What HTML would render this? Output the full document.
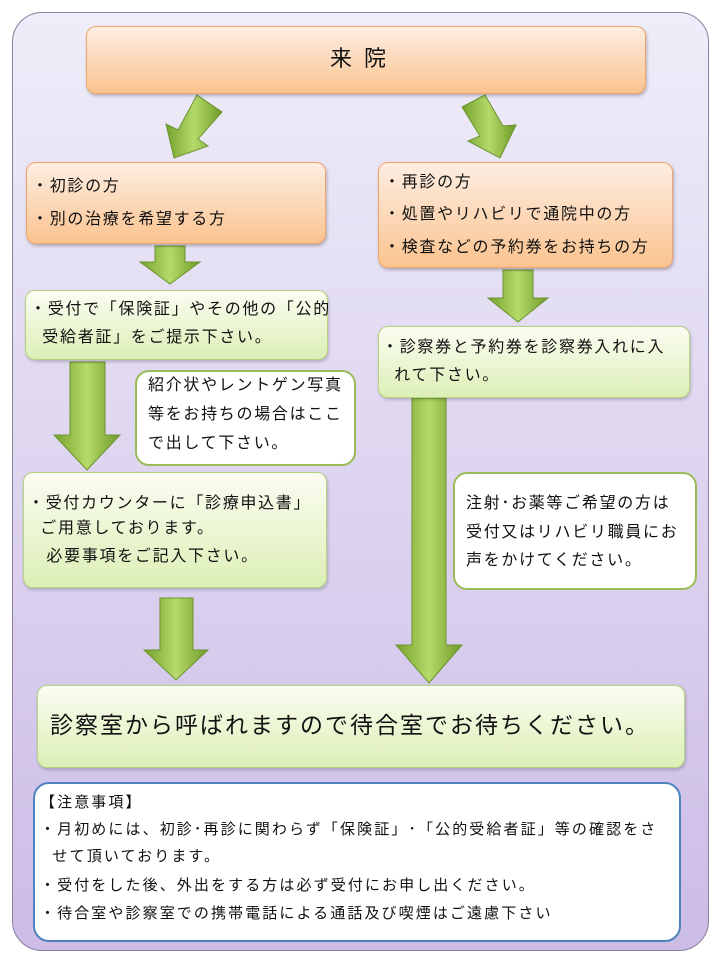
<!DOCTYPE html>
<html><head><meta charset="utf-8"><style>
body{margin:0;width:720px;height:960px;background:#fff;position:relative;overflow:hidden;font-family:"Liberation Sans","Noto Sans CJK JP",sans-serif;color:#111}
.a{position:absolute;box-sizing:border-box}
.org{background:linear-gradient(#fdeee2,#fbc38f);border:1px solid #f0a56a;border-radius:10px;box-shadow:1px 2px 3px rgba(0,0,0,.25)}
.grn{background:linear-gradient(#fbfdf2,#dcefb6);border:1px solid #b6d47e;border-radius:10px;box-shadow:1px 2px 3px rgba(0,0,0,.2)}
.wht{background:#fff;border:2px solid #9bbb59;border-radius:14px}
.t{position:absolute;font-size:16px;letter-spacing:1.7px;white-space:nowrap;line-height:1}
.n{font-size:15px;letter-spacing:2.1px}
</style></head><body>
<div class="a" style="left:12px;top:12px;width:697px;height:939px;border:1px solid #8a80a0;border-radius:30px;background:linear-gradient(#efedf9,#ccbce6)"></div>

<svg class="a" style="left:0;top:0" width="720" height="960">
<defs><linearGradient id="g" x1="0" x2="1"><stop offset="0" stop-color="#76a22c"/><stop offset=".5" stop-color="#b5da6a"/><stop offset="1" stop-color="#6f9a28"/></linearGradient></defs>
<g fill="url(#g)" stroke="#6b9330" stroke-width="1">
<polygon points="197,95 222,112 198,139 208,146 174,158 166,124 178,130"/>
<polygon points="485,95 462,107 480,136 468,141 500,158 516,125 503,126"/>
<polygon points="155,246 185,246 185,262 200,262 170,284 140,262 155,262"/>
<polygon points="503,270 533,270 533,298 548,298 518,322 488,298 503,298"/>
<polygon points="70,362 105,362 105,435 120,435 87,470 54,435 70,435"/>
<polygon points="160,598 193,598 193,650 208,650 176,680 144,650 160,650"/>
<polygon points="412,398 446,398 446,645 462,645 429,683 396,645 412,645"/>
</g></svg>

<div class="a org" style="left:86px;top:26px;width:560px;height:68px"></div>
<div class="t" style="left:330px;top:48px;font-size:22px;letter-spacing:12px">来院</div>

<div class="a org" style="left:26px;top:162px;width:300px;height:82px"></div>
<div class="t" style="left:32px;top:179px">・初診の方</div>
<div class="t" style="left:32px;top:212px">・別の治療を希望する方</div>

<div class="a org" style="left:378px;top:162px;width:295px;height:106px"></div>
<div class="t" style="left:384px;top:175px">・再診の方</div>
<div class="t" style="left:384px;top:207px">・処置やリハビリで通院中の方</div>
<div class="t" style="left:384px;top:240px">・検査などの予約券をお持ちの方</div>

<div class="a grn" style="left:25px;top:290px;width:303px;height:70px"></div>
<div class="t" style="left:30px;top:302px">・受付で「保険証」やその他の「公的</div>
<div class="t" style="left:30px;top:330px">&nbsp;&nbsp;受給者証」をご提示下さい。</div>

<div class="a grn" style="left:378px;top:326px;width:312px;height:72px"></div>
<div class="t" style="left:382px;top:340px">・診察券と予約券を診察券入れに入</div>
<div class="t" style="left:382px;top:368px">&nbsp;&nbsp;れて下さい。</div>

<div class="a wht" style="left:135px;top:370px;width:221px;height:96px"></div>
<div class="t" style="left:148px;top:378px">紹介状やレントゲン写真</div>
<div class="t" style="left:148px;top:407px">等をお持ちの場合はここ</div>
<div class="t" style="left:148px;top:436px">で出して下さい。</div>

<div class="a grn" style="left:23px;top:472px;width:304px;height:116px"></div>
<div class="t" style="left:28px;top:496px">・受付カウンターに「診療申込書」</div>
<div class="t" style="left:28px;top:521px">&nbsp;&nbsp;ご用意しております。</div>
<div class="t" style="left:28px;top:549px">&nbsp;&nbsp;&nbsp;必要事項をご記入下さい。</div>

<div class="a wht" style="left:453px;top:472px;width:244px;height:118px"></div>
<div class="t" style="left:466px;top:496px">注射･お薬等ご希望の方は</div>
<div class="t" style="left:466px;top:525px">受付又はリハビリ職員にお</div>
<div class="t" style="left:466px;top:553px">声をかけてください。</div>

<div class="a grn" style="left:37px;top:685px;width:648px;height:83px"></div>
<div class="t" style="left:50px;top:714px;font-size:23px;letter-spacing:2px">診察室から呼ばれますので待合室でお待ちください。</div>

<div class="a" style="left:33px;top:782px;width:648px;height:160px;background:#fff;border:2px solid #4f81bd;border-radius:16px"></div>
<div class="t n" style="left:40px;top:795px">【注意事項】</div>
<div class="t n" style="left:40px;top:822px">・月初めには、初診･再診に関わらず「保険証」･「公的受給者証」等の確認をさ</div>
<div class="t n" style="left:40px;top:849px">&nbsp;&nbsp;せて頂いております。</div>
<div class="t n" style="left:40px;top:878px">・受付をした後、外出をする方は必ず受付にお申し出ください。</div>
<div class="t n" style="left:40px;top:906px">・待合室や診察室での携帯電話による通話及び喫煙はご遠慮下さい</div>
</body></html>
